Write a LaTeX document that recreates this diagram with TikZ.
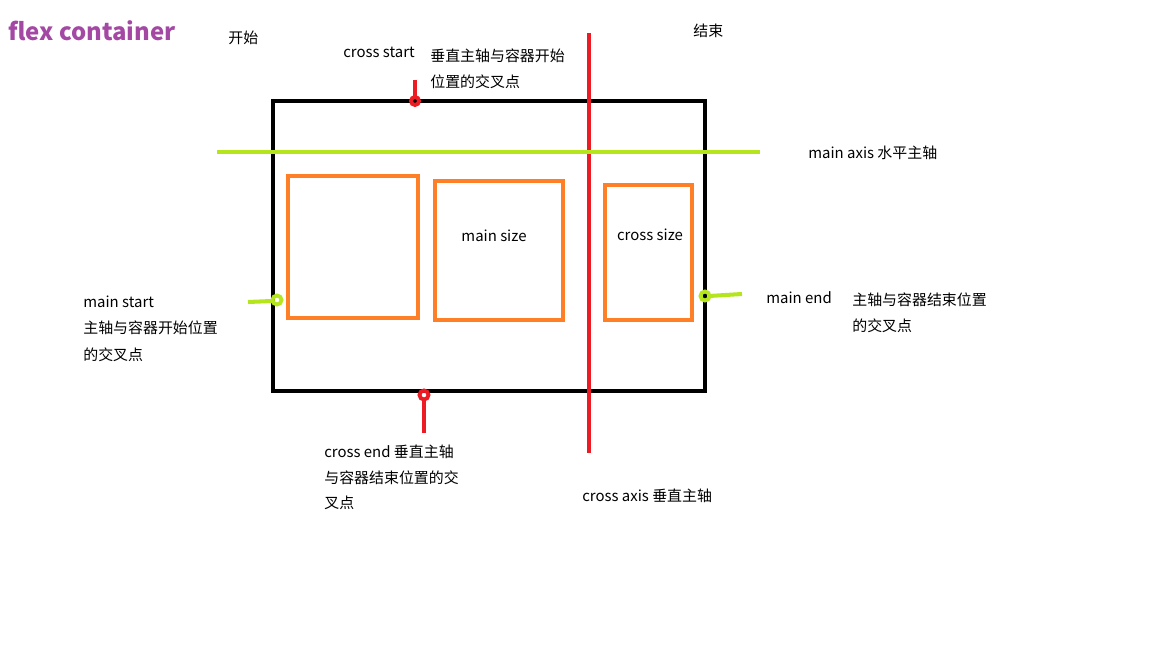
\documentclass[tikz,border=0pt]{standalone}
\usepackage{fontspec}
\setmainfont{Noto Sans CJK SC}
\definecolor{axisred}{RGB}{237,28,36}
\definecolor{axisgreen}{RGB}{181,230,29}
\definecolor{itemorange}{RGB}{255,127,39}
\definecolor{titlepurple}{RGB}{163,73,164}
\tikzset{
  lbl/.style={anchor=west, inner sep=0pt, font=\fontsize{8.5}{10}\selectfont},
  item/.style={draw=itemorange, line width=1.8pt},
  ring/.style={line width=2.2pt},
}

\begin{document}
\begin{tikzpicture}[x=0.02cm, y=-0.02cm]

\useasboundingbox (0,0) rectangle (1152,648);

% container
\draw[line width=2.3pt] (273,101) rectangle (705,391);

% items
\draw[item] (288,176) rectangle (418,318);
\draw[item] (435,181) rectangle (563,320);
\draw[item] (605,185) rectangle (692,320);

% axes
\draw[axisred, line width=2.3pt] (589,33) -- (589,453);
\draw[axisgreen, line width=2.3pt] (217,152) -- (760,152);

% markers
\draw[axisred, line width=2.3pt] (415,80) -- (415,97);
\draw[axisred, ring] (415,101) circle (4);
\draw[axisred, line width=2.3pt] (424,399) -- (424,433);
\draw[axisred, ring] (424,395) circle (4.5);
\draw[axisgreen, line width=2.3pt] (248,302) -- (272,301);
\draw[axisgreen, ring] (277,300) circle (4.5);
\draw[axisgreen, line width=2.3pt] (709,296) -- (742,294);
\draw[axisgreen, ring] (705,296) circle (4.5);

% labels
\node[anchor=west, inner sep=0pt, text=titlepurple, font=\fontsize{13.6}{16}\selectfont\bfseries] (title) at (8,31) {flex container};
\node[lbl] (begin) at (228,38) {开始};
\node[lbl] (finish) at (693,31) {结束};
\node[lbl] (cstart) at (343,52) {cross start};
\node[lbl] (cstart1) at (430,56) {垂直主轴与容器开始};
\node[lbl] (cstart2) at (430,82) {位置的交叉点};
\node[lbl] (maxis) at (808,153) {main axis 水平主轴};
\node[inner sep=0pt, font=\fontsize{8.5}{10}\selectfont] (msize) at (494,236) {main size};
\node[inner sep=0pt, font=\fontsize{8.5}{10}\selectfont] (csize) at (650,235) {cross size};
\node[lbl] (mstart) at (83,302) {main start};
\node[lbl] (mstart1) at (83,328) {主轴与容器开始位置};
\node[lbl] (mstart2) at (83,355) {的交叉点};
\node[lbl] (mend) at (766,298) {main end};
\node[lbl] (mend1) at (852,300) {主轴与容器结束位置};
\node[lbl] (mend2) at (852,326) {的交叉点};
\node[lbl] (cend) at (324,452) {cross end 垂直主轴};
\node[lbl] (cend1) at (324,478) {与容器结束位置的交};
\node[lbl] (cend2) at (324,503) {叉点};
\node[lbl] (caxis) at (582,496) {cross axis 垂直主轴};

\end{tikzpicture}
\end{document}
